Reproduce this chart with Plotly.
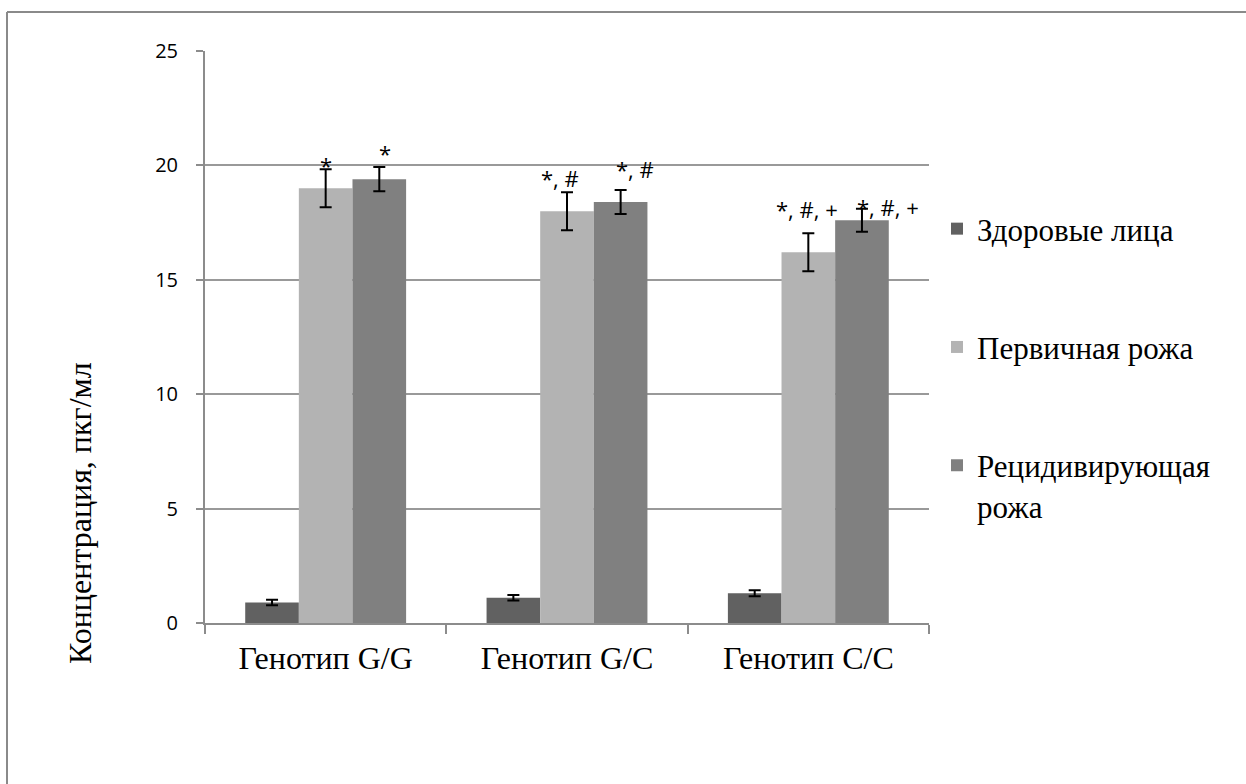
import plotly.graph_objects as go

categories = ["Генотип G/G", "Генотип G/C", "Генотип C/C"]
series_names = ["Здоровые лица", "Первичная рожа", "Рецидивирующая<br>рожа"]
healthy = [0.9, 1.1, 1.3]
healthy_err = [0.12, 0.12, 0.13]
primary = [19.0, 18.0, 16.2]
primary_err = [0.83, 0.83, 0.83]
recurrent = [19.4, 18.4, 17.6]
recurrent_err = [0.53, 0.52, 0.50]
colors = ["#616161", "#b3b3b3", "#808080"]

# significance labels: (series index, category index, text)
sig_labels = [
    (1, 0, "*"), (2, 0, "*"),
    (1, 1, "*, #"), (2, 1, "*, #"),
    (1, 2, "*, #, +"), (2, 2, "*, #, +"),
]
# label placement tweaks (data-units above error top, px horizontal shift)
sig_dy = [0.19, 0.62, 0.61, 0.94, 1.05, 0.07]
sig_dx = [0.7, 5.4, -6.7, 14.8, -1.3, 26.3]

values = [healthy, primary, recurrent]
errors = [healthy_err, primary_err, recurrent_err]

W, H = 1246, 784
L, R, T, B = 205, 317, 51, 161
pw, ph = W - L - R, H - T - B

fig = go.Figure()
for i in range(3):
    fig.add_trace(go.Bar(
        x=categories, y=values[i], name=series_names[i],
        marker=dict(color=colors[i], line=dict(width=0)),
        error_y=dict(type="data", array=errors[i], color="black", thickness=2, width=6),
        legendgroup=f"g{i}",
    ))

bargap = 1.5 / 4.5
bw = (1 - bargap) / 3
for k, (si, ci, txt) in enumerate(sig_labels):
    xoff = (si - 1) * bw
    ytop = values[si][ci] + errors[si][ci] + sig_dy[k]
    fig.add_annotation(
        x=ci + xoff, y=ytop, xref="x", yref="y", text=txt, showarrow=False,
        xanchor="center", yanchor="middle", xshift=sig_dx[k],
        font=dict(family="Open Sans", size=22, color="black"),
    )

def px_x(p):
    return (p - L) / pw

def px_y(p):
    return (H - B - p) / ph

fig.add_annotation(
    x=px_x(80), y=px_y(513), xref="paper", yref="paper",
    text="Концентрация, пкг/мл", textangle=-90, showarrow=False,
    xanchor="center", yanchor="middle",
    font=dict(family="Liberation Serif", size=32, color="black"),
)

frame_col = "#8a8a8a"
fig.add_shape(type="line", xref="paper", yref="paper",
              x0=px_x(7), x1=px_x(W + 10), y0=px_y(12), y1=px_y(12),
              line=dict(color=frame_col, width=2))
fig.add_shape(type="line", xref="paper", yref="paper",
              x0=px_x(7), x1=px_x(7), y0=px_y(12), y1=px_y(H + 10),
              line=dict(color=frame_col, width=2))

fig.update_layout(
    width=W, height=H,
    margin=dict(l=L, r=R, t=T, b=B, autoexpand=False),
    paper_bgcolor="white", plot_bgcolor="white",
    barmode="group", bargap=bargap, bargroupgap=0,
    showlegend=True,
    legend=dict(
        x=px_x(937), y=px_y(202), xanchor="left", yanchor="top",
        font=dict(family="Liberation Serif", size=31, color="black"),
        tracegroupgap=75, valign="top", itemwidth=30,
        bgcolor="rgba(0,0,0,0)",
    ),
    xaxis=dict(
        type="category", showline=True, linecolor="#8c8c8c", linewidth=2,
        ticks="outside", tickson="boundaries", ticklen=9, tickcolor="#8c8c8c", tickwidth=2,
        showgrid=False, ticklabelstandoff=6,
        tickfont=dict(family="Liberation Serif", size=32, color="black"),
    ),
    yaxis=dict(
        range=[0, 25], tickvals=[0, 5, 10, 15, 20, 25],
        showline=True, linecolor="#8c8c8c", linewidth=2,
        ticks="outside", ticklen=7, tickcolor="#8c8c8c", tickwidth=2,
        showgrid=True, gridcolor="#999999", gridwidth=2, zeroline=False,
        ticklabelstandoff=14,
        tickfont=dict(family="Open Sans", size=20, color="black"),
    ),
)

fig.write_html("out.html", config={"displayModeBar": False},
               post_script="document.body.style.margin='0px';")
